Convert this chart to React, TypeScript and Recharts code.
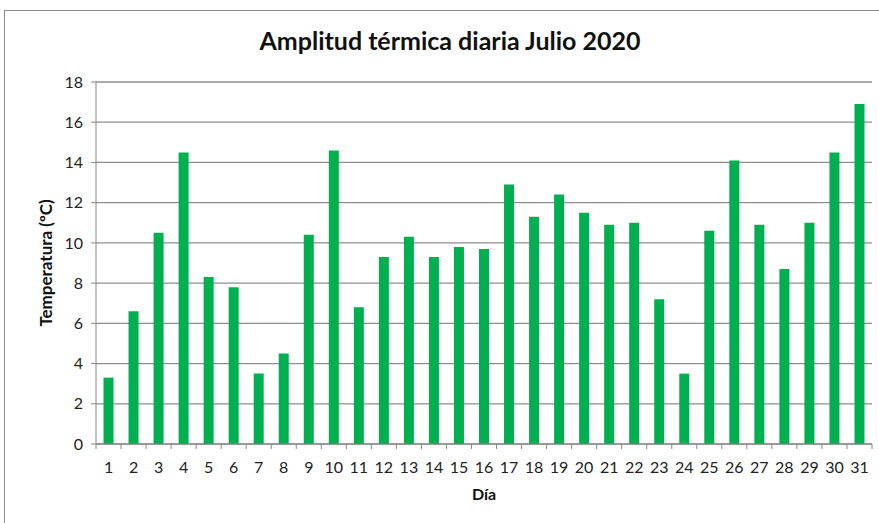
import { BarChart, Bar, XAxis, YAxis, CartesianGrid } from 'recharts';

const dias = ['1','2','3','4','5','6','7','8','9','10','11','12','13','14','15','16','17','18','19','20','21','22','23','24','25','26','27','28','29','30','31'];
const amplitud = [3.3, 6.6, 10.5, 14.5, 8.3, 7.8, 3.5, 4.5, 10.4, 14.6, 6.8, 9.3, 10.3, 9.3, 9.8, 9.7, 12.9, 11.3, 12.4, 11.5, 10.9, 11.0, 7.2, 3.5, 10.6, 14.1, 10.9, 8.7, 11.0, 14.5, 16.9];
const yTicks = [0, 2, 4, 6, 8, 10, 12, 14, 16, 18];

const W = 879;
const H = 523;
const M = { top: 82, right: 7, bottom: 49, left: 56 };
const Y_W = 40;
const X_H = 30;
const plotW = W - M.left - M.right - Y_W;
const band = plotW / dias.length;

const data = dias.map((d, i) => ({ dia: d, valor: amplitud[i] }));

const font = 'Lato, "Open Sans", sans-serif';

function DiaTick(props: any) {
  const { x, y, payload, index } = props;
  const left = x - band / 2;
  return (
    <g>
      <line x1={left} y1={y - 8} x2={left} y2={y - 3} stroke="#888" />
      {index === dias.length - 1 && (
        <line x1={left + band} y1={y - 8} x2={left + band} y2={y - 3} stroke="#888" />
      )}
      <text x={x} y={y + 21} textAnchor="middle" fill="#222" fontSize={16} fontFamily={font}>
        {payload.value}
      </text>
    </g>
  );
}

export default function App() {
  return (
    <div style={{ position: 'absolute', left: 0, top: 0, width: W, height: H, background: '#fff', overflow: 'hidden' }}>
      <div style={{ position: 'absolute', left: 4, top: 10, width: W, height: H, borderLeft: '1.5px solid #8c8c8c', borderTop: '1.5px solid #8c8c8c' }} />
      <div style={{ position: 'absolute', left: 0, width: 900, top: 25, textAlign: 'center', fontFamily: font, fontWeight: 700, fontSize: 25, color: '#111' }}>
        Amplitud térmica diaria Julio 2020
      </div>
      <div style={{ position: 'absolute', left: 484, top: 484, transform: 'translateX(-50%)', fontFamily: font, fontWeight: 700, fontSize: 16, color: '#111' }}>
        Día
      </div>
      <div style={{ position: 'absolute', left: 45, top: 263, transform: 'translate(-50%, -50%) rotate(-90deg)', whiteSpace: 'nowrap', fontFamily: font, fontWeight: 700, fontSize: 17, color: '#111' }}>
        Temperatura (ºC)
      </div>
      <BarChart width={W} height={H} data={data} margin={M} barCategoryGap="30%">
        <CartesianGrid vertical={false} stroke="#8e8e8e" strokeWidth={1.3} />
        <XAxis
          dataKey="dia"
          height={X_H}
          stroke="#888"
          tickLine={false}
          tick={<DiaTick />}
          interval={0}
        />
        <YAxis
          width={Y_W}
          domain={[0, 18]}
          ticks={yTicks}
          stroke="#888"
          tickSize={5}
          tickMargin={8}
          tick={{ fill: '#222', fontSize: 16, fontFamily: font }}
        />
        <Bar dataKey="valor" fill="#00b050" isAnimationActive={false} />
      </BarChart>
    </div>
  );
}
